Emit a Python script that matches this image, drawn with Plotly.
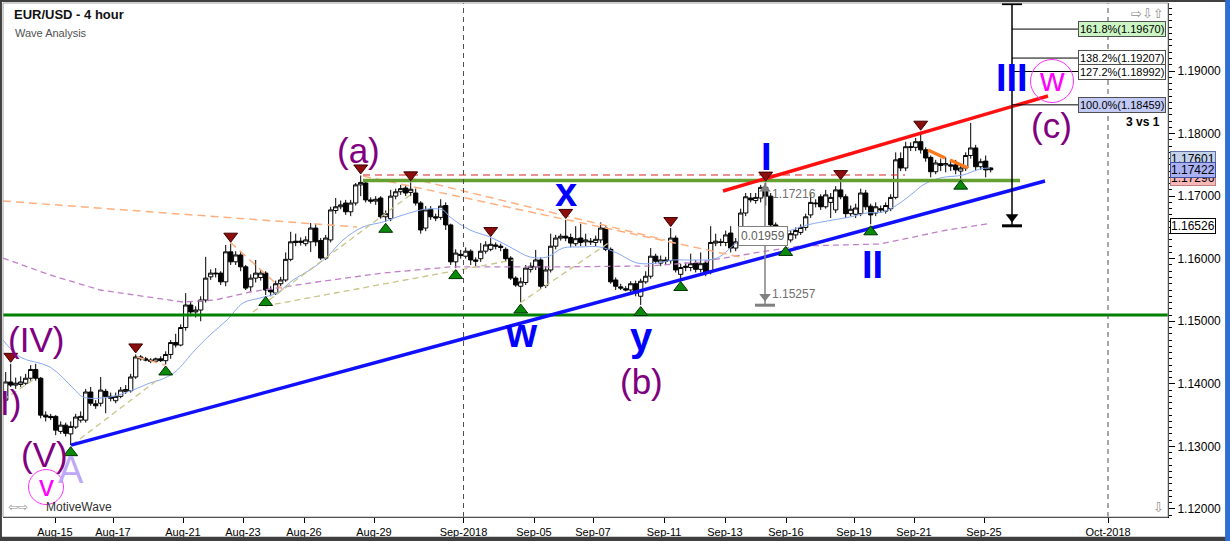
import plotly.graph_objects as go

# ---------------- data ----------------
open_ = [1.1374,1.1403,1.1398,1.1399,1.1401,1.1409,1.1423,1.1409,1.1350,1.1348,
         1.1348,1.1324,1.1334,1.1320,1.1331,1.1342,1.1342,1.1387,1.1368,1.1369,
         1.1388,1.1380,1.1373,1.1380,1.1388,1.1389,1.1411,1.1443,1.1440,1.1438,
         1.1436,1.1440,1.1437,1.1447,1.1466,1.1462,1.1490,1.1526,1.1515,1.1518,
         1.1534,1.1571,1.1577,1.1577,1.1563,1.1611,1.1595,1.1606,1.1587,1.1555,
         1.1569,1.1570,1.1577,1.1550,1.1545,1.1560,1.1566,1.1599,1.1628,1.1626,
         1.1624,1.1627,1.1649,1.1629,1.1601,1.1630,1.1677,1.1683,1.1689,1.1675,
         1.1689,1.1718,1.1721,1.1694,1.1692,1.1697,1.1667,1.1664,1.1700,1.1707,
         1.1713,1.1706,1.1705,1.1689,1.1649,1.1679,1.1667,1.1666,1.1685,1.1654,
         1.1595,1.1607,1.1604,1.1612,1.1598,1.1600,1.1612,1.1615,1.1622,1.1620,
         1.1615,1.1601,1.1569,1.1556,1.1562,1.1583,1.1587,1.1598,1.1557,1.1582,
         1.1620,1.1633,1.1636,1.1634,1.1624,1.1633,1.1627,1.1628,1.1626,1.1630,
         1.1649,1.1615,1.1566,1.1555,1.1552,1.1550,1.1560,1.1540,1.1563,1.1572,
         1.1604,1.1593,1.1598,1.1597,1.1633,1.1575,1.1586,1.1586,1.1593,1.1583,
         1.1593,1.1580,1.1625,1.1627,1.1626,1.1641,1.1617,1.1627,1.1673,1.1697,
         1.1693,1.1697,1.1714,1.1700,1.1654,1.1637,1.1630,1.1630,1.1638,1.1642,
         1.1650,1.1670,1.1689,1.1699,1.1683,1.1690,1.1678,1.1710,1.1699,1.1672,
         1.1671,1.1672,1.1705,1.1684,1.1673,1.1680,1.1676,1.1680,1.1698,1.1760,
         1.1745,1.1779,1.1778,1.1787,1.1774,1.1762,1.1739,1.1752,1.1750,1.1750,
         1.1750,1.1740,1.1745,1.1765,1.1777,1.1747,1.1756,1.1745]
high = [1.1419,1.1432,1.1410,1.1412,1.1416,1.1430,1.1432,1.1411,1.1356,1.1352,
        1.1350,1.1340,1.1338,1.1340,1.1352,1.1356,1.1392,1.1395,1.1374,1.1411,
        1.1392,1.1386,1.1386,1.1395,1.1398,1.1416,1.1447,1.1446,1.1443,1.1441,
        1.1442,1.1444,1.1452,1.1470,1.1480,1.1495,1.1545,1.1532,1.1524,1.1540,
        1.1603,1.1583,1.1585,1.1580,1.1622,1.1624,1.1612,1.1612,1.1590,1.1575,
        1.1598,1.1582,1.1580,1.1556,1.1565,1.1571,1.1610,1.1643,1.1640,1.1634,
        1.1636,1.1657,1.1655,1.1633,1.1638,1.1683,1.1697,1.1693,1.1694,1.1694,
        1.1721,1.1733,1.1725,1.1698,1.1700,1.1700,1.1677,1.1710,1.1712,1.1718,
        1.1718,1.1722,1.1712,1.1692,1.1684,1.1684,1.1672,1.1695,1.1690,1.1656,
        1.1615,1.1614,1.1618,1.1615,1.1602,1.1625,1.1628,1.1633,1.1626,1.1624,
        1.1618,1.1604,1.1572,1.1570,1.1590,1.1594,1.1614,1.1602,1.1588,1.1640,
        1.1638,1.1640,1.1662,1.1640,1.1652,1.1656,1.1640,1.1633,1.1637,1.1658,
        1.1652,1.1618,1.1570,1.1560,1.1556,1.1564,1.1565,1.1568,1.1580,1.1617,
        1.1608,1.1605,1.1603,1.1649,1.1637,1.1592,1.1594,1.1608,1.1598,1.1610,
        1.1597,1.1652,1.1640,1.1632,1.1645,1.1652,1.1633,1.1680,1.1705,1.1705,
        1.1705,1.1718,1.17216,1.1705,1.1658,1.1642,1.1640,1.1645,1.1650,1.1655,
        1.1672,1.1705,1.1695,1.1703,1.1710,1.1705,1.1716,1.1724,1.1703,1.1685,
        1.1688,1.1712,1.1710,1.1688,1.1690,1.1685,1.1690,1.1703,1.1770,1.1770,
        1.1787,1.1786,1.1793,1.1803,1.1778,1.1765,1.1758,1.1760,1.1762,1.1757,
        1.1758,1.1750,1.1770,1.1817,1.1782,1.1760,1.1765,1.1746]
low = [1.1371,1.1395,1.1392,1.1395,1.1398,1.1405,1.1405,1.1345,1.1340,1.1342,
       1.1318,1.1320,1.1316,1.1302,1.1328,1.1338,1.1338,1.1365,1.1360,1.1364,
       1.1353,1.1372,1.1369,1.1377,1.1384,1.1386,1.1408,1.1437,1.1436,1.1433,
       1.1434,1.1435,1.1431,1.1440,1.1458,1.1460,1.1485,1.1508,1.1506,1.1500,
       1.1530,1.1566,1.1570,1.1558,1.1556,1.1590,1.1590,1.1580,1.1550,1.1548,
       1.1562,1.1565,1.1542,1.1540,1.1542,1.1556,1.1563,1.1596,1.1620,1.1621,
       1.1620,1.1611,1.1620,1.1598,1.1598,1.1626,1.1672,1.1679,1.1670,1.1668,
       1.1685,1.1700,1.1690,1.1688,1.1686,1.1664,1.1659,1.1660,1.1695,1.1702,
       1.1700,1.1700,1.1685,1.1640,1.1644,1.1662,1.1660,1.1662,1.1646,1.1590,
       1.1585,1.1600,1.1600,1.1590,1.1588,1.1595,1.1608,1.1612,1.1615,1.1612,
       1.1596,1.1566,1.1555,1.1530,1.1558,1.1578,1.1582,1.1552,1.1553,1.1578,
       1.1615,1.1629,1.1628,1.1618,1.1620,1.1620,1.1620,1.1622,1.1620,1.1625,
       1.1612,1.1560,1.1550,1.1550,1.1548,1.1546,1.1540,1.1526,1.1560,1.1568,
       1.1592,1.1588,1.1590,1.1592,1.1578,1.1566,1.1580,1.1580,1.1578,1.1578,
       1.1572,1.1575,1.1620,1.1620,1.1620,1.1610,1.1612,1.1622,1.1668,1.1690,
       1.1688,1.1690,1.1685,1.1648,1.1630,1.1625,1.1622,1.1626,1.1632,1.1638,
       1.1645,1.1665,1.1682,1.1678,1.1680,1.1665,1.1673,1.1695,1.1665,1.1668,
       1.1665,1.1668,1.1678,1.1655,1.1668,1.1673,1.1672,1.1676,1.1695,1.1740,
       1.1740,1.1772,1.1772,1.1768,1.1755,1.1730,1.1735,1.1740,1.1738,1.1740,
       1.1735,1.1728,1.1740,1.1760,1.1740,1.1742,1.1730,1.1738]
close = [1.1403,1.1398,1.1401,1.1403,1.1409,1.1423,1.1409,1.1350,1.1347,1.1346,
         1.1326,1.1334,1.1321,1.1332,1.1347,1.1348,1.1387,1.1369,1.1365,1.1390,
         1.1380,1.1377,1.1380,1.1390,1.1391,1.1411,1.1443,1.1440,1.1438,1.1436,
         1.1440,1.1437,1.1447,1.1466,1.1462,1.1490,1.1526,1.1515,1.1518,1.1534,
         1.1569,1.1577,1.1576,1.1563,1.1611,1.1595,1.1606,1.1587,1.1553,1.1569,
         1.1577,1.1577,1.1550,1.1547,1.1560,1.1566,1.1599,1.1627,1.1626,1.1628,
         1.1630,1.1649,1.1627,1.1601,1.1633,1.1678,1.1683,1.1686,1.1675,1.1689,
         1.1718,1.1722,1.1694,1.1692,1.1695,1.1667,1.1672,1.1700,1.1707,1.1712,
         1.1705,1.1711,1.1689,1.1646,1.1678,1.1667,1.1665,1.1684,1.1654,1.1595,
         1.1609,1.1605,1.1612,1.1598,1.1596,1.1612,1.1622,1.1623,1.1620,1.1618,
         1.1600,1.1569,1.1558,1.1563,1.1585,1.1588,1.1598,1.1556,1.1582,1.1620,
         1.1633,1.1636,1.1633,1.1625,1.1632,1.1626,1.1630,1.1627,1.1631,1.1649,
         1.1615,1.1563,1.1556,1.1553,1.1550,1.1560,1.1545,1.1564,1.1572,1.1604,
         1.1596,1.1598,1.1596,1.1633,1.1582,1.1586,1.1588,1.1592,1.1583,1.1592,
         1.1579,1.1626,1.1628,1.1626,1.1638,1.1617,1.1627,1.1673,1.1699,1.1694,
         1.1698,1.1714,1.1700,1.1654,1.1637,1.1630,1.1636,1.1640,1.1645,1.1650,
         1.1667,1.1690,1.1688,1.1683,1.1702,1.1698,1.1710,1.1699,1.1672,1.1679,
         1.1681,1.1705,1.1683,1.1670,1.1683,1.1678,1.1685,1.1698,1.1758,1.1745,
         1.1779,1.1778,1.1787,1.1774,1.1761,1.1739,1.1753,1.1749,1.1752,1.1748,
         1.1742,1.1745,1.1765,1.1777,1.1747,1.1755,1.1742,1.17422]
bars = list(range(len(close)))

tick_pos = [9.86, 21.46, 35.46, 47.46, 59.66, 73.66, 91.56, 105.66, 117.46,
            131.66, 143.86, 156.06, 169.66, 181.66, 195.66, 220.46]
tick_text = ["Aug-15", "Aug-17", "Aug-21", "Aug-23", "Aug-26", "Aug-29", "Sep-2018",
             "Sep-05", "Sep-07", "Sep-11", "Sep-13", "Sep-16", "Sep-19", "Sep-21",
             "Sep-25", "Oct-2018"]
month_lines = [91.56, 220.46]
price_ticks = [1.12, 1.13, 1.14, 1.15, 1.16, 1.17, 1.18, 1.19]

swing_high_idx = [1, 26, 45, 71, 81, 97, 112, 133, 152, 167, 183]
swing_low_idx = [13, 32, 52, 76, 90, 103, 127, 135, 156, 173, 191]

# moving averages (bar, price)
ma_fast_x = [-0.54, 2.86, 8.86, 13.46, 15.46, 20.86, 25.46, 28.86, 30.86, 33.86, 37.86, 40.86,
             44.26, 47.46, 50.86, 54.26, 57.46, 60.86, 64.26, 67.46, 71.46, 75.46, 78.26,
             81.46, 84.26, 87.46, 88.86, 92.86, 96.86, 100.86, 104.86, 108.26, 111.46,
             114.86, 118.86, 122.26, 126.26, 130.26, 133.46, 138.26, 142.26, 146.86,
             150.86, 155.46, 160.26, 165.46, 168.86, 172.26, 175.46, 178.86, 181.46,
             183.46, 186.86, 191.46, 194.86, 196.86]
ma_fast_y = [1.14701, 1.14429, 1.14269, 1.13934, 1.13790, 1.13790, 1.13902, 1.14014, 1.14062,
             1.14189, 1.14541, 1.14781, 1.15020, 1.15292, 1.15372, 1.15452, 1.15660, 1.15820,
             1.16027, 1.16299, 1.16507, 1.16587, 1.16667, 1.16747, 1.16794, 1.16778, 1.16667,
             1.16459, 1.16347, 1.16187, 1.16027, 1.16027, 1.16171, 1.16187, 1.16187, 1.16091,
             1.15931, 1.15931, 1.15979, 1.15979, 1.16011, 1.16299, 1.16459, 1.16427, 1.16539,
             1.16619, 1.16667, 1.16731, 1.16747, 1.16890, 1.17050, 1.17178, 1.17290, 1.17338,
             1.17434, 1.17450]
ma_slow_x = [-0.54, 8.86, 18.86, 28.86, 35.46, 41.86, 48.86, 62.26, 75.46, 88.86, 108.86,
             128.86, 138.86, 150.86, 158.86, 174.86, 181.46, 188.26, 196.26]
ma_slow_y = [1.16011, 1.15740, 1.15500, 1.15388, 1.15308, 1.15340, 1.15468, 1.15628, 1.15772,
             1.15868, 1.15868, 1.15884, 1.15947, 1.16107, 1.16203, 1.16235, 1.16347, 1.16459,
             1.16555]

# auto trend lines (start bar, start price, end bar, end price)
orange_dash = [(-0.54, 1.16922, 70.26, 1.16507), (71.46, 1.17322, 147.86, 1.16011),
               (80.86, 1.17290, 131.86, 1.16299), (44.86, 1.16267, 55.46, 1.15500),
               (26.26, 1.14429, 31.86, 1.14301)]
tan_dash = [(13.26, 1.13023, 30.86, 1.14094), (-0.54, 1.13742, 5.46, 1.14062),
            (49.46, 1.15148, 81.46, 1.17050), (51.86, 1.15244, 101.46, 1.15979),
            (102.86, 1.15292, 120.86, 1.16267)]

# wave lines
blue_line = (13.06, 1.1302, 207.86, 1.17242)
red_line = (143.46, 1.17082, 208.46, 1.18600)
orange_lines = [(184.46, 1.17737, 187.86, 1.17610), (188.86, 1.17578, 192.46, 1.17450)]
green_upper = (71.46, 202.86, 1.1725)
green_lower = 1.1510
red_dashed = (71.46, 179.86, 1.17338)

# measure tool
measure_bar = 151.86
measure_hi, measure_lo = 1.17216, 1.15257
measure_diff = "0.01959"

# fibonacci extension
fib_bar = 201.26
fib_base = 1.16526
fib_label_bar = 214.46
fib_pct = ["161.8%", "138.2%", "127.2%", "100.0%"]
fib_vals = [1.19670, 1.19207, 1.18992, 1.18459]
fib_bg = ["#ccf5c4", "#ffffff", "#ffffff", "#c3c9f5"]

# wave labels: (text, bar, price, colour, size, bold)
wave_labels = [
    ("(IV)", 6.06, 1.14701, "#800080", 35, False),
    ("(V)", 7.66, 1.12863, "#800080", 35, False),
    ("A", 13.06, 1.12623, "#c0a8f8", 38, False),
    ("(a)", 70.46, 1.17737, "#800080", 35, False),
    ("x", 112.06, 1.17066, "#0000ff", 40, True),
    ("w", 103.06, 1.14813, "#0000ff", 40, True),
    ("y", 127.06, 1.14749, "#0000ff", 40, True),
    ("(b)", 127.06, 1.14030, "#800080", 35, False),
    ("I", 152.06, 1.17626, "#0000ff", 38, True),
    ("II", 173.26, 1.15899, "#0000ff", 38, True),
    ("III", 201.26, 1.18888, "#0000ff", 38, True),
    ("(c)", 209.06, 1.18137, "#800080", 35, False),
]
circled = [("v", 8.06, 1.12351, 35, 30), ("w", 209.26, 1.18840, 43, 34)]

axis_tags = [("1.17296", "#f6b7b7", "#c08080"), ("1.17601", "#c4d3ec", "#6070a0"),
             ("1.17422", "#aab2f4", "#4050a0"), ("1.16526", "#ffffff", "#000000")]

# ---------------- figure ----------------
FONT = "Liberation Sans, Arial, sans-serif"
fig = go.Figure()

x0, x1 = -0.54, 232.46
y0, y1 = 1.118720, 1.200868

# moving averages
fig.add_trace(go.Scatter(x=ma_slow_x, y=ma_slow_y, mode="lines",
                         line=dict(color="#c080c8", width=1.3, dash="6px,4px"), hoverinfo="skip"))
fig.add_trace(go.Scatter(x=ma_fast_x, y=ma_fast_y, mode="lines",
                         line=dict(color="#88aaf0", width=1, shape="spline"), hoverinfo="skip"))
for xa, ya, xb, yb in orange_dash:
    fig.add_trace(go.Scatter(x=[xa, xb], y=[ya, yb], mode="lines",
                             line=dict(color="#ffb080", width=1.5, dash="8px,5px"), hoverinfo="skip"))
for xa, ya, xb, yb in tan_dash:
    fig.add_trace(go.Scatter(x=[xa, xb], y=[ya, yb], mode="lines",
                             line=dict(color="#c8c48a", width=1.3, dash="6px,4px"), hoverinfo="skip"))

# candles
fig.add_trace(go.Candlestick(
    x=bars, open=open_, high=high, low=low, close=close,
    increasing=dict(line=dict(color="black", width=1), fillcolor="white"),
    decreasing=dict(line=dict(color="black", width=1), fillcolor="black"),
    whiskerwidth=0, hoverinfo="skip"))

# horizontal levels
fig.add_trace(go.Scatter(x=[x0, x1], y=[green_lower, green_lower], mode="lines",
                         line=dict(color="#008000", width=3), hoverinfo="skip"))
fig.add_trace(go.Scatter(x=[red_dashed[0], red_dashed[1]], y=[red_dashed[2]] * 2, mode="lines",
                         line=dict(color="#dd2222", width=1, dash="7px,5px"), hoverinfo="skip"))
fig.add_trace(go.Scatter(x=[green_upper[0], green_upper[1]], y=[green_upper[2]] * 2, mode="lines",
                         line=dict(color="#66a030", width=3.5), hoverinfo="skip"))

# wave lines
fig.add_trace(go.Scatter(x=[blue_line[0], blue_line[2]], y=[blue_line[1], blue_line[3]], mode="lines",
                         line=dict(color="#1010ff", width=3.5), hoverinfo="skip"))
fig.add_trace(go.Scatter(x=[red_line[0], red_line[2]], y=[red_line[1], red_line[3]], mode="lines",
                         line=dict(color="#ff1010", width=3.5), hoverinfo="skip"))
for xa, ya, xb, yb in orange_lines:
    fig.add_trace(go.Scatter(x=[xa, xb], y=[ya, yb], mode="lines",
                             line=dict(color="#ff7a1a", width=3.5), hoverinfo="skip"))

# measure tool
fig.add_trace(go.Scatter(x=[measure_bar, measure_bar], y=[measure_hi, measure_lo], mode="lines",
                         line=dict(color="#808080", width=1.5), hoverinfo="skip"))
fig.add_trace(go.Scatter(x=[measure_bar - 2, measure_bar + 2], y=[measure_lo, measure_lo], mode="lines",
                         line=dict(color="#808080", width=3), hoverinfo="skip"))
fig.add_trace(go.Scatter(x=[measure_bar, measure_bar], y=[measure_hi - 0.0010, measure_lo + 0.0014],
                         mode="markers", marker=dict(symbol=["triangle-up", "triangle-down"], size=10,
                                                     color="#808080"), hoverinfo="skip"))

# fib extension tool
fig.add_trace(go.Scatter(x=[fib_bar, fib_bar], y=[fib_base, y1 + 0.001], mode="lines",
                         line=dict(color="black", width=1.5), hoverinfo="skip"))
fig.add_trace(go.Scatter(x=[fib_bar - 2, fib_bar + 2], y=[fib_base, fib_base], mode="lines",
                         line=dict(color="black", width=3), hoverinfo="skip"))
fig.add_trace(go.Scatter(x=[fib_bar - 2, fib_bar + 2], y=[y1 - 0.0001, y1 - 0.0001], mode="lines",
                         line=dict(color="black", width=3), hoverinfo="skip"))
fig.add_trace(go.Scatter(x=[fib_bar], y=[fib_base + 0.0014], mode="markers",
                         marker=dict(symbol="triangle-down", size=11, color="black"), hoverinfo="skip"))
for v in fib_vals:
    fig.add_trace(go.Scatter(x=[fib_bar, fib_label_bar], y=[v, v], mode="lines",
                             line=dict(color="black", width=1), hoverinfo="skip"))

# swing markers
fig.add_trace(go.Scatter(x=swing_high_idx, y=[high[i] + 0.0012 for i in swing_high_idx],
                         mode="markers", marker=dict(symbol="triangle-down", size=12, color="#8b0d0d",
                                                     line=dict(color="#400000", width=1)),
                         hoverinfo="skip"))
fig.add_trace(go.Scatter(x=swing_low_idx, y=[low[i] - 0.0012 for i in swing_low_idx],
                         mode="markers", marker=dict(symbol="triangle-up", size=12, color="#0a8a0a",
                                                     line=dict(color="#003000", width=1)),
                         hoverinfo="skip"))

# circled labels
for t, bx, py, msize, fsize in circled:
    fig.add_trace(go.Scatter(x=[bx], y=[py], mode="markers",
                             marker=dict(symbol="circle-open", size=msize, color="#ff30ff",
                                         line=dict(width=1)), hoverinfo="skip"))

ann = []
for t, bx, py, col, sz, bold in wave_labels:
    ann.append(dict(x=bx, y=py, xref="x", yref="y", text=f"<b>{t}</b>" if bold else t,
                    showarrow=False, yanchor="middle", font=dict(family=FONT, size=sz, color=col)))
for t, bx, py, msize, fsize in circled:
    ann.append(dict(x=bx, y=py, xref="x", yref="y", text=t, showarrow=False, yshift=2,
                    yanchor="middle", font=dict(family=FONT, size=fsize, color="#ff00ff")))
ann.append(dict(x=3.46, y=1.13710, xref="x", yref="y", text="(III)", xanchor="right",
                yanchor="middle", showarrow=False, font=dict(family=FONT, size=35, color="#800080")))
ann.append(dict(x=231.26, y=1.18185, xref="x", yref="y", text="<b>3 vs 1</b>", xanchor="right",
                yanchor="middle", showarrow=False, font=dict(family=FONT, size=12, color="black")))
# measure labels
ann.append(dict(x=measure_bar + 1, y=measure_hi, xref="x", yref="y", text=f"{measure_hi:.5f}",
                xanchor="left", yanchor="top", yshift=-2, showarrow=False,
                font=dict(family=FONT, size=12, color="#707070")))
ann.append(dict(x=measure_bar + 1, y=measure_lo, xref="x", yref="y", text=f"{measure_lo:.5f}",
                xanchor="left", yanchor="bottom", yshift=2, showarrow=False,
                font=dict(family=FONT, size=12, color="#707070")))
ann.append(dict(x=measure_bar - 0.5, y=(measure_hi + measure_lo) / 2 + 0.0013, xref="x", yref="y",
                text=measure_diff, showarrow=False, bgcolor="white", bordercolor="#808080",
                yanchor="middle", borderwidth=1, borderpad=2,
                font=dict(family=FONT, size=12, color="#606060")))
# fib labels
for p, v, bg in zip(fib_pct, fib_vals, fib_bg):
    ann.append(dict(x=fib_label_bar, y=v, xref="x", yref="y", text=f"{p}({v:.5f})", xanchor="left",
                    yanchor="middle", showarrow=False, bgcolor=bg, bordercolor="#505050",
                    borderwidth=1, borderpad=1, font=dict(family=FONT, size=11, color="black")))
# axis price tags
for t, bg, bc in axis_tags:
    ann.append(dict(x=1.0, y=float(t), xref="paper", yref="y", text=t, xanchor="left", xshift=2,
                    yanchor="middle", showarrow=False, bgcolor=bg, bordercolor=bc, borderwidth=1,
                    borderpad=0, font=dict(family=FONT, size=12, color="black")))
# titles & misc text
ann.append(dict(x=0.0077, y=0.9767, xref="paper", yref="paper", text="<b>EUR/USD - 4 hour</b>",
                xanchor="left", yanchor="middle", showarrow=False,
                font=dict(family=FONT, size=13, color="#111111")))
ann.append(dict(x=0.0086, y=0.9416, xref="paper", yref="paper", text="Wave Analysis",
                xanchor="left", yanchor="middle", showarrow=False,
                font=dict(family=FONT, size=11, color="#505050")))
ann.append(dict(x=0.0352, y=0.0195, xref="paper", yref="paper", text="MotiveWave",
                xanchor="left", yanchor="middle", showarrow=False,
                font=dict(family=FONT, size=12, color="#303030")))
ann.append(dict(x=0.003, y=0.0195, xref="paper", yref="paper", text="⇦⇨",
                xanchor="left", yanchor="middle", showarrow=False,
                font=dict(family="DejaVu Sans", size=12, color="#909090")))
ann.append(dict(x=0.998, y=0.9805, xref="paper", yref="paper", text="⇨⇩⇧",
                xanchor="right", yanchor="middle", showarrow=False,
                font=dict(family="DejaVu Sans", size=13, color="#909090")))
ann.append(dict(x=0.998, y=0.018, xref="paper", yref="paper", text="⇩",
                xanchor="right", yanchor="middle", showarrow=False,
                font=dict(family="DejaVu Sans", size=13, color="#909090")))

shapes = []
for m in month_lines:
    shapes.append(dict(type="line", xref="x", yref="paper", x0=m, x1=m, y0=0, y1=1,
                       line=dict(color="#505050", width=1, dash="5px,4px")))
shapes.append(dict(type="rect", xref="paper", yref="paper", x0=0, x1=1, y0=0, y1=1,
                   line=dict(color="#a0a0a0", width=1)))
# window frame
shapes.append(dict(type="rect", xref="paper", yref="paper", x0=-0.0026, x1=-0.0009, y0=-0.05, y1=1.01,
                   fillcolor="#404040", line=dict(width=0)))
shapes.append(dict(type="rect", xref="paper", yref="paper", x0=-0.01, x1=1.06, y0=1.0019, y1=1.01,
                   fillcolor="#404040", line=dict(width=0)))
shapes.append(dict(type="rect", xref="paper", yref="paper", x0=-0.01, x1=1.06, y0=-0.05, y1=-0.0385,
                   fillcolor="#404040", line=dict(width=0)))
shapes.append(dict(type="rect", xref="paper", yref="paper", x0=1.0490, x1=1.06, y0=-0.05, y1=1.01,
                   fillcolor="#2f6fd0", line=dict(width=0)))

fig.update_layout(
    width=1230, height=541, margin=dict(l=3, r=62, t=3, b=24),
    paper_bgcolor="white", plot_bgcolor="white", showlegend=False,
    boxgap=0.15, boxgroupgap=0.0,
    annotations=ann, shapes=shapes,
    xaxis=dict(range=[x0, x1], tickvals=tick_pos, ticktext=tick_text, showgrid=False, zeroline=False,
               showline=True, linecolor="black", linewidth=1, ticks="outside", ticklen=5,
               tickcolor="black", tickfont=dict(family=FONT, size=11, color="black"),
               rangeslider=dict(visible=False), fixedrange=True),
    yaxis=dict(range=[y0, y1], side="right", tickvals=price_ticks, tickformat=".5f", showgrid=False,
               zeroline=False, showline=True, linecolor="black", linewidth=1, ticks="outside",
               ticklen=6, tickcolor="black", tickfont=dict(family=FONT, size=12, color="black"),
               minor=dict(dtick=0.001, ticks="outside", ticklen=3, tickcolor="black"), fixedrange=True),
)

fig.write_html("out.html", config={"displayModeBar": False},
               post_script="document.body.style.margin='0';document.body.style.padding='0';"
                           "document.body.style.overflow='hidden';")
